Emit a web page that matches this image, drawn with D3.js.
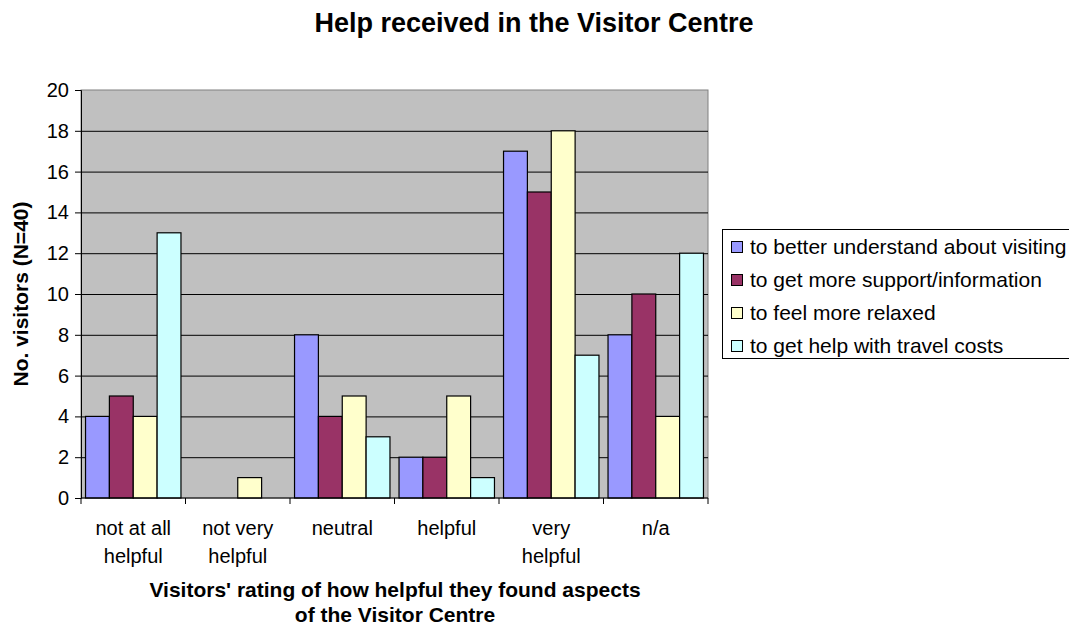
<!DOCTYPE html>
<html><head><meta charset="utf-8">
<script src="https://cdn.jsdelivr.net/npm/d3@7/dist/d3.min.js"></script>
<style>body{margin:0;background:#fff;} svg{display:block;font-family:"Liberation Sans",Arial,sans-serif;}</style>
</head><body><svg id="c" width="1069" height="625"></svg>
<script>
const categories = [["not at all","helpful"],["not very","helpful"],["neutral"],["helpful"],["very","helpful"],["n/a"]];
const seriesNames = ["to better understand about visiting","to get more support/information","to feel more relaxed","to get help with travel costs"];
const understand = [4,0,8,2,17,8];
const support = [5,0,4,2,15,10];
const relaxed = [4,1,5,5,18,4];
const travel = [13,0,3,1,7,12];
const seriesValues = [understand, support, relaxed, travel];
const colors = ["#9999FF","#993366","#FFFFCC","#CCFFFF"];
const yTicks = [0,2,4,6,8,10,12,14,16,18,20];

const svg = d3.select("#c");
const L=81, R=708, T=90, B=498;
const x = d3.scaleBand().domain(d3.range(categories.length)).range([L,R]).paddingInner(0).paddingOuter(0);
const x1 = d3.scaleBand().domain(d3.range(4)).range([0, x.bandwidth()]).paddingOuter(0.19).paddingInner(0);
const y = d3.scaleLinear().domain([0,20]).range([B,T]);

svg.append("rect").attr("x",L).attr("y",T).attr("width",R-L).attr("height",B-T).attr("fill","#C0C0C0").attr("stroke","#808080").attr("stroke-width",1);
svg.append("g").selectAll("line").data(yTicks.filter(d=>d>0 && d<20)).join("line")
  .attr("x1",L).attr("x2",R).attr("y1",d=>y(d)+0.5).attr("y2",d=>y(d)+0.5).attr("stroke","#000").attr("stroke-width",1);

// bars
categories.forEach((c,i)=>{
  seriesValues.forEach((vals,s)=>{
    const v = vals[i];
    if(v<=0) return;
    svg.append("rect").attr("x",x(i)+x1(s)).attr("y",y(v)).attr("width",x1.bandwidth()).attr("height",B-y(v))
      .attr("fill",colors[s]).attr("stroke","#000").attr("stroke-width",1.2);
  });
});

// y axis
const ya = svg.append("g").attr("transform",`translate(${L},0)`).call(d3.axisLeft(y).tickValues(yTicks).tickSize(6).tickPadding(6));
ya.select(".domain").attr("stroke","#000");
ya.selectAll("text").attr("font-size",20).attr("fill","#000").style("font-family","Liberation Sans, Arial, sans-serif");
// x axis
const xa = svg.append("g").attr("transform",`translate(0,${B})`);
xa.append("line").attr("x1",L).attr("x2",R).attr("y1",0).attr("y2",0).attr("stroke","#000");
xa.selectAll("line.t").data(d3.range(categories.length+1)).join("line").attr("class","t")
  .attr("x1",d=>L+d*x.bandwidth()).attr("x2",d=>L+d*x.bandwidth()).attr("y1",0).attr("y2",6).attr("stroke","#000");
categories.forEach((c,i)=>{
  const t = xa.append("text").attr("x",x(i)+x.bandwidth()/2).attr("y",37).attr("text-anchor","middle").attr("font-size",20).attr("fill","#000");
  c.forEach((ln,k)=>t.append("tspan").attr("x",x(i)+x.bandwidth()/2).attr("dy",k===0?0:28).text(ln));
});

// titles
svg.append("text").attr("x",534).attr("y",32).attr("text-anchor","middle").attr("font-size",27).attr("font-weight","bold").text("Help received in the Visitor Centre");
svg.append("text").attr("transform","translate(28,294) rotate(-90)").attr("text-anchor","middle").attr("font-size",21).attr("font-weight","bold").text("No. visitors (N=40)");
const xt = svg.append("text").attr("text-anchor","middle").attr("font-size",21).attr("font-weight","bold");
xt.append("tspan").attr("x",395).attr("y",597).text("Visitors' rating of how helpful they found aspects");
xt.append("tspan").attr("x",395).attr("y",622).text("of the Visitor Centre");

// legend
const lg = svg.append("g");
lg.append("rect").attr("x",722.5).attr("y",229.5).attr("width",360).attr("height",129).attr("fill","#fff").attr("stroke","#000");
seriesNames.forEach((n,i)=>{
  const cy = 247 + i*33;
  lg.append("rect").attr("x",731.5).attr("y",cy-5.5).attr("width",11).attr("height",11).attr("fill",colors[i]).attr("stroke","#000");
  lg.append("text").attr("x",750).attr("y",cy+7).attr("font-size",21).attr("fill","#000").text(n);
});
</script></body></html>
